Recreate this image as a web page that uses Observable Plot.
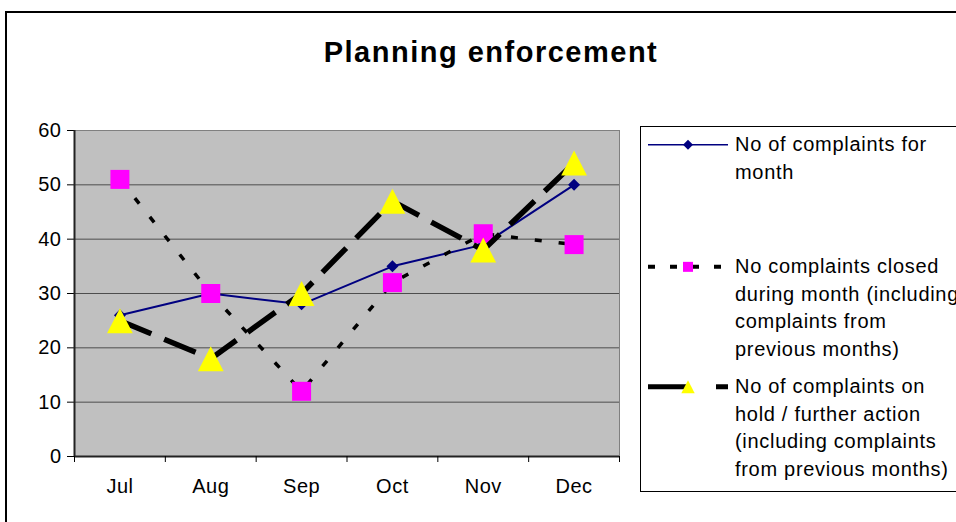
<!DOCTYPE html>
<html><head><meta charset="utf-8">
<script src="https://cdn.jsdelivr.net/npm/d3@7"></script>
<script src="https://cdn.jsdelivr.net/npm/@observablehq/plot@0.6"></script>
<style>
html,body{margin:0;padding:0;background:#fff;overflow:hidden;}
#wrap{position:relative;width:956px;height:522px;overflow:hidden;font-family:Arial,"Liberation Sans",sans-serif;color:#000;background:#fff;}
#border{position:absolute;left:5px;top:11px;width:1100px;height:600px;border:2px solid #000;}
#title{position:absolute;left:241px;width:500px;top:35px;line-height:34px;text-align:center;font-weight:bold;font-size:29px;letter-spacing:1.5px;}
#chart{position:absolute;left:0;top:100px;}
#legend{position:absolute;left:640px;top:126px;width:400px;height:364px;border:1px solid #000;background:#fff;}
#legsvg{position:absolute;left:640px;top:126px;}
.lt{position:absolute;left:735px;font-size:20px;line-height:27.7px;letter-spacing:0.7px;white-space:nowrap;}
</style></head>
<body>
<div id="wrap">
  <div id="border"></div>
  <div id="title">Planning enforcement</div>
  <div id="chart"></div>
  <div id="legend"></div>
</div>
<script>
const months = ["Jul", "Aug", "Sep", "Oct", "Nov", "Dec"];
const complaints = [26, 30, 28, 35, 39, 50];
const closed = [51, 30, 12, 32, 41, 39];
const onHold = [25, 18, 30, 47, 38, 54];
const yTicks = [0, 10, 20, 30, 40, 50, 60];
const seriesLabels = [
  ["No of complaints for", "month"],
  ["No complaints closed", "during month (including", "complaints from", "previous months)"],
  ["No of complaints on", "hold / further action", "(including complaints", "from previous months)"]
];

const rows = (vals) => months.map((m, i) => ({month: m, value: vals[i]}));
const d1 = rows(complaints), d2 = rows(closed), d3r = rows(onHold);

// custom marker shapes (Excel-like, centered on bounding box)
const diamondSym = {draw(ctx, size) { const h = Math.sqrt(size) / 2; ctx.moveTo(0, -h); ctx.lineTo(h, 0); ctx.lineTo(0, h); ctx.lineTo(-h, 0); ctx.closePath(); }};
const squareSym = {draw(ctx, size) { const h = Math.sqrt(size) / 2; ctx.moveTo(-h, -h); ctx.lineTo(h, -h); ctx.lineTo(h, h); ctx.lineTo(-h, h); ctx.closePath(); }};
const triSym = {draw(ctx, size) { const s = Math.sqrt(size); const w = s * 1.03, h = s; ctx.moveTo(0, -h / 2); ctx.lineTo(w / 2, h / 2); ctx.lineTo(-w / 2, h / 2); ctx.closePath(); }};
const rFor = (side) => side / Math.sqrt(Math.PI);

const W = 640, H = 406, ML = 74, MR = 21, MT = 30, MB = 50;
const bw = (W - ML - MR) / months.length;

const chart = Plot.plot({
  width: W, height: H,
  marginLeft: ML, marginRight: MR, marginTop: MT, marginBottom: MB,
  style: {fontSize: "20px", fontFamily: "Arial, 'Liberation Sans', sans-serif", color: "#000", background: "transparent", overflow: "visible", letterSpacing: "0.5px"},
  x: {type: "band", domain: months, padding: 0, round: false, label: null, tickSize: 0, tickPadding: 22},
  y: {domain: [0, 60], ticks: yTicks, tickSize: 7, tickPadding: 6, label: null},
  marks: [
    Plot.frame({fill: "#C0C0C0", stroke: "#808080"}),
    Plot.ruleY(yTicks.slice(1, -1), {stroke: "#4d4d4d", strokeWidth: 1}),
    Plot.ruleY([0], {stroke: "#222", strokeWidth: 2}),
    Plot.ruleX([months[0]], {dx: -bw / 2, stroke: "#222", strokeWidth: 2}),
    Plot.ruleX(months, {dx: -bw / 2, y1: 0, y2: 0, insetBottom: -6, stroke: "#000"}),
    Plot.ruleX([months[months.length - 1]], {dx: bw / 2, y1: 0, y2: 0, insetBottom: -6, stroke: "#000"}),
    // series 1
    Plot.line(d1, {x: "month", y: "value", stroke: "#000080", strokeWidth: 2}),
    Plot.dot(d1, {x: "month", y: "value", symbol: diamondSym, r: rFor(12), fill: "#000080"}),
    // series 2
    Plot.line(d2, {x: "month", y: "value", stroke: "#000", strokeWidth: 3.5, strokeDasharray: "7,17", strokeLinecap: "butt", strokeLinejoin: "miter"}),
    Plot.dot(d2, {x: "month", y: "value", symbol: squareSym, r: rFor(19), fill: "#FF00FF"}),
    // series 3
    Plot.line(d3r, {x: "month", y: "value", stroke: "#000", strokeWidth: 5.5, strokeDasharray: "34,14", strokeLinecap: "butt", strokeLinejoin: "miter"}),
    Plot.dot(d3r, {x: "month", y: "value", symbol: triSym, r: rFor(25), fill: "#FFFF00"})
  ]
});
document.getElementById("chart").appendChild(chart);

// Legend
const wrap = document.getElementById("wrap");
const tops = [131, 253, 373];
seriesLabels.forEach((lines, k) => {
  const div = document.createElement("div");
  div.className = "lt";
  div.style.top = tops[k] + "px";
  div.innerHTML = lines.join("<br>");
  wrap.appendChild(div);
});
const ls = d3.create("svg").attr("id", "legsvg").attr("width", 100).attr("height", 365);
const cy = tops.map(t => t + 13.85 - 126);
// entry 1
ls.append("line").attr("x1", 8).attr("x2", 88).attr("y1", cy[0]).attr("y2", cy[0]).attr("stroke", "#000080").attr("stroke-width", 1.5);
ls.append("path").attr("d", d3.symbol(diamondSym, 100)()).attr("transform", `translate(48,${cy[0]})`).attr("fill", "#000080");
// entry 2
ls.append("line").attr("x1", 8).attr("x2", 88).attr("y1", cy[1]).attr("y2", cy[1]).attr("stroke", "#000").attr("stroke-width", 4).attr("stroke-dasharray", "7,15");
ls.append("path").attr("d", d3.symbol(squareSym, 100)()).attr("transform", `translate(48,${cy[1]})`).attr("fill", "#FF00FF");
// entry 3
ls.append("line").attr("x1", 8).attr("x2", 88).attr("y1", cy[2]).attr("y2", cy[2]).attr("stroke", "#000").attr("stroke-width", 5).attr("stroke-dasharray", "40,28,12");
ls.append("path").attr("d", d3.symbol(triSym, 169)()).attr("transform", `translate(48,${cy[2]})`).attr("fill", "#FFFF00");
wrap.appendChild(ls.node());
</script>
</body></html>
